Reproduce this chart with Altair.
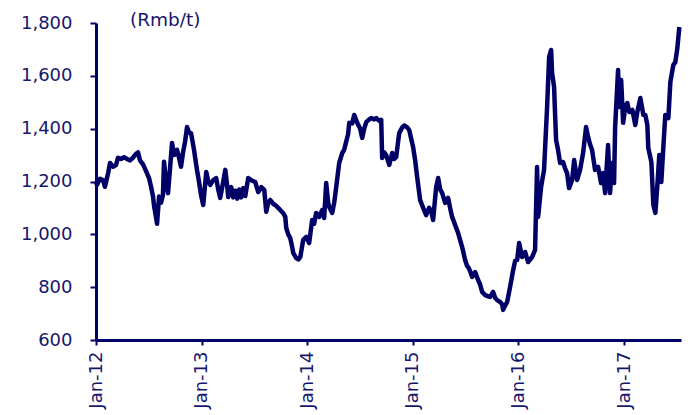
import altair as alt
import pandas as pd

# Decimal-year positions of the traced points and the price (Rmb/t) at each
year_frac = [
    2012.000, 2012.009, 2012.038, 2012.066, 2012.085, 2012.114, 2012.133, 2012.161, 2012.189, 2012.208,
    2012.237, 2012.265, 2012.294, 2012.322, 2012.350, 2012.379, 2012.398, 2012.417, 2012.445, 2012.473,
    2012.502, 2012.521, 2012.540, 2012.549, 2012.568, 2012.578, 2012.597, 2012.616, 2012.634, 2012.644,
    2012.663, 2012.682, 2012.701, 2012.720, 2012.739, 2012.767, 2012.786, 2012.805, 2012.824, 2012.843,
    2012.862, 2012.881, 2012.900, 2012.928, 2012.956, 2012.975, 2012.994,
    2013.013, 2013.042, 2013.061, 2013.080, 2013.108, 2013.136, 2013.155, 2013.174, 2013.203, 2013.222,
    2013.241, 2013.250, 2013.278, 2013.297, 2013.316, 2013.335, 2013.354, 2013.373, 2013.392, 2013.411,
    2013.439, 2013.468, 2013.506, 2013.534, 2013.563, 2013.591, 2013.610, 2013.629, 2013.648, 2013.676,
    2013.695, 2013.723, 2013.742, 2013.771, 2013.790, 2013.799, 2013.818, 2013.837, 2013.856, 2013.866,
    2013.894, 2013.913, 2013.932, 2013.960, 2013.989,
    2014.017, 2014.045, 2014.064, 2014.083, 2014.112, 2014.140, 2014.159, 2014.178, 2014.197, 2014.206,
    2014.235, 2014.254, 2014.273, 2014.301, 2014.330, 2014.348, 2014.367, 2014.386, 2014.396, 2014.424,
    2014.443, 2014.472, 2014.500, 2014.519, 2014.538, 2014.557, 2014.585, 2014.604, 2014.633, 2014.652,
    2014.680, 2014.699, 2014.708, 2014.727, 2014.746, 2014.775, 2014.803, 2014.822, 2014.841, 2014.869,
    2014.898, 2014.917, 2014.945, 2014.964, 2014.992,
    2015.002, 2015.021, 2015.040, 2015.068, 2015.097, 2015.125, 2015.153, 2015.172, 2015.191, 2015.220,
    2015.239, 2015.258, 2015.277, 2015.305, 2015.333, 2015.352, 2015.371, 2015.400, 2015.428, 2015.466,
    2015.494, 2015.513, 2015.523, 2015.542, 2015.561, 2015.589, 2015.617, 2015.636, 2015.655, 2015.684,
    2015.712, 2015.731, 2015.759, 2015.778, 2015.797, 2015.826, 2015.845, 2015.854, 2015.873, 2015.892,
    2015.920, 2015.949, 2015.968, 2015.987,
    2016.006, 2016.034, 2016.063, 2016.091, 2016.110, 2016.129, 2016.157, 2016.176, 2016.186, 2016.214,
    2016.242, 2016.261, 2016.271, 2016.290, 2016.309, 2016.318, 2016.337, 2016.347, 2016.356, 2016.375,
    2016.394, 2016.422, 2016.441, 2016.460, 2016.479, 2016.508, 2016.527, 2016.555, 2016.583, 2016.612,
    2016.640, 2016.659, 2016.678, 2016.697, 2016.725, 2016.754, 2016.782, 2016.801, 2016.820, 2016.848,
    2016.867, 2016.886, 2016.905, 2016.915, 2016.943, 2016.953, 2016.972, 2016.991,
    2017.009, 2017.028, 2017.047, 2017.076, 2017.104, 2017.123, 2017.152, 2017.180, 2017.199, 2017.218,
    2017.227, 2017.256, 2017.275, 2017.294, 2017.313, 2017.331, 2017.350, 2017.369, 2017.388, 2017.417,
    2017.436, 2017.464, 2017.483, 2017.502, 2017.511, 2017.521,
]

price = [
    1200, 1187, 1210, 1205, 1180, 1230, 1270, 1256, 1262, 1290,
    1285, 1292, 1285, 1280, 1290, 1305, 1310, 1280, 1265, 1240,
    1213, 1180, 1143, 1110, 1065, 1040, 1143, 1120, 1150, 1275,
    1200, 1156, 1250, 1346, 1300, 1320, 1290, 1256, 1310, 1350,
    1406, 1385, 1383, 1320, 1244, 1200, 1150,
    1111, 1236, 1200, 1187, 1205, 1213, 1170, 1138, 1200, 1244,
    1180, 1141, 1179, 1140, 1165, 1135, 1170, 1140, 1175, 1145,
    1213, 1205, 1198, 1160, 1179, 1168, 1085, 1120, 1130, 1115,
    1111, 1100, 1092, 1080, 1066, 1025, 1000, 986, 950, 929,
    910, 905, 914, 979, 990,
    967, 1054, 1040, 1081, 1066, 1092, 1062, 1194, 1120, 1104,
    1081, 1120, 1179, 1270, 1308, 1320, 1350, 1380, 1422, 1420,
    1452, 1422, 1400, 1365, 1400, 1425, 1435, 1440, 1435, 1440,
    1430, 1433, 1289, 1310, 1300, 1263, 1308, 1285, 1293, 1383,
    1405, 1412, 1405, 1395, 1346,
    1330, 1280, 1217, 1130, 1100, 1073, 1100, 1090, 1054, 1179,
    1213, 1170, 1156, 1119, 1138, 1100, 1066, 1035, 1005, 952,
    903, 880, 876, 860, 839, 857, 827, 810, 782, 770,
    765, 763, 782, 760, 751, 744, 735, 714, 730, 744,
    801, 865, 900, 903,
    967, 914, 933, 895, 905, 914, 941, 1255, 1066, 1179,
    1244, 1400, 1482, 1671, 1698, 1611, 1558, 1450, 1357, 1319,
    1270, 1274, 1250, 1232, 1175, 1206, 1281, 1206, 1244, 1308,
    1406, 1369, 1340, 1319, 1244, 1255, 1194, 1232, 1156, 1338,
    1156, 1270, 1194, 1406, 1622, 1482, 1584, 1422,
    1482, 1497, 1463, 1471, 1414, 1463, 1516, 1452, 1452, 1414,
    1327, 1274, 1111, 1081, 1187, 1300, 1198, 1327, 1452, 1440,
    1577, 1641, 1652, 1705, 1743, 1785,
]

tick_years = [2012, 2013, 2014, 2015, 2016, 2017]
y_ticks = [600, 800, 1000, 1200, 1400, 1600, 1800]
unit_label = "(Rmb/t)"


def to_date(y):
    yr = int(y)
    return pd.Timestamp(yr, 1, 1) + pd.Timedelta(days=(y - yr) * 365.25)


df = pd.DataFrame({"date": [to_date(y) for y in year_frac], "price": price})

NAVY = "#000066"
TEXT = "#16166b"
FONT = "DejaVu Sans"

x_enc = alt.X(
    "date:T",
    scale=alt.Scale(domain=[alt.DateTime(year=2012, month=1, date=1),
                            alt.DateTime(year=2017, month=7, date=16)]),
    axis=alt.Axis(
        values=[alt.DateTime(year=y, month=1, date=1) for y in tick_years],
        format="%b-%y",
        labelAngle=-90,
        title=None,
        grid=False,
        domainColor=NAVY,
        domainWidth=3,
        tickColor=NAVY,
        tickWidth=2,
        tickSize=5,
        labelPadding=6,
        labelColor=TEXT,
        labelFont=FONT,
        labelFontSize=18,
    ),
)

y_enc = alt.Y(
    "price:Q",
    scale=alt.Scale(domain=[600, 1800], nice=False, zero=False),
    axis=alt.Axis(
        values=y_ticks,
        format=",d",
        title=None,
        grid=False,
        domainColor=NAVY,
        domainWidth=3,
        tickColor=NAVY,
        tickWidth=2,
        tickSize=6,
        labelPadding=18,
        labelColor=TEXT,
        labelFont=FONT,
        labelFontSize=18,
    ),
)

line = alt.Chart(df).mark_line(color=NAVY, strokeWidth=4.5, strokeJoin="round").encode(
    x=x_enc, y=y_enc
)

label = alt.Chart(pd.DataFrame({"t": [unit_label]})).mark_text(
    align="left", baseline="alphabetic", font=FONT, fontSize=18.5, color=TEXT
).encode(x=alt.value(34), y=alt.value(3), text="t:N")

chart = (
    alt.layer(line, label)
    .properties(
        width=585,
        height=317,
        autosize=alt.AutoSizeParams(type="none"),
        padding={"left": 88, "top": 15, "right": 4, "bottom": 75},
    )
    .configure_view(stroke=None)
)

chart.save("out.html", embed_options={"renderer": "svg", "actions": False})
